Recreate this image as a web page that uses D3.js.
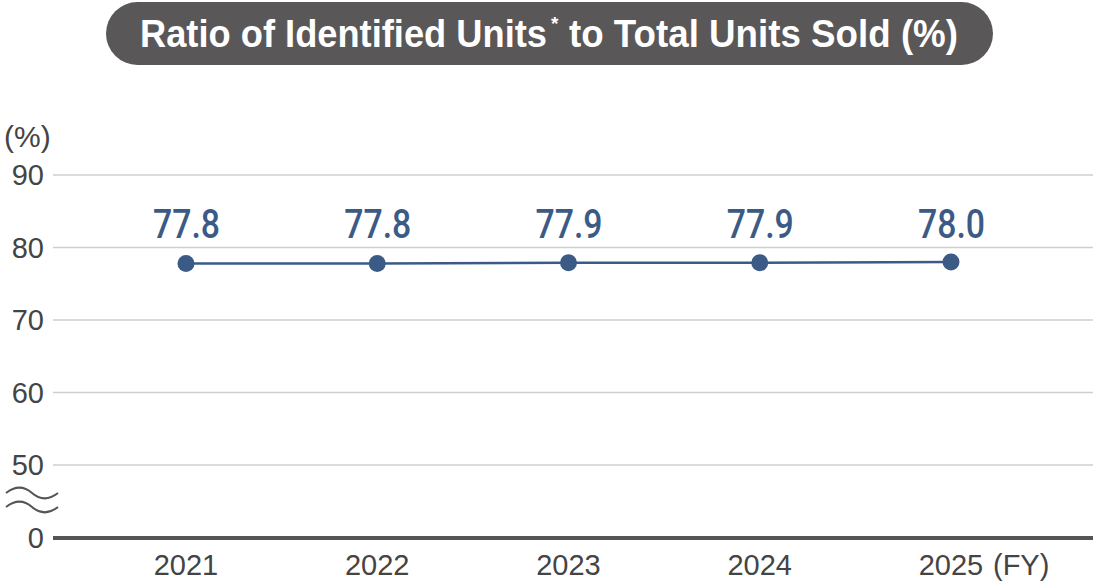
<!DOCTYPE html>
<html><head><meta charset="utf-8">
<script src="https://cdn.jsdelivr.net/npm/d3@7"></script>
<style>body{margin:0;background:#fff}svg{display:block}</style>
</head><body>
<svg id="c" width="1097" height="581"></svg>
<script>
const years = ["2021","2022","2023","2024","2025"];
const ratios = [77.8, 77.8, 77.9, 77.9, 78.0];
const yTicks = [50, 60, 70, 80, 90];
const titleText = "Ratio of Identified Units";
const titleMark = "*";
const titleRest = "to Total Units Sold (%)";

const svg = d3.select("#c");
const left = 53, right = 1093;
const x = d3.scalePoint().domain(years).range([186, 951]);
const y = d3.scaleLinear().domain([50, 90]).range([465, 175]);
const axisY = 538;

// title
svg.append("rect").attr("x",106).attr("y",2).attr("width",887).attr("height",63).attr("rx",31.5).attr("fill","#595757");
const tg = svg.append("g").attr("fill","#fff")
  .attr("font-family","Liberation Sans, Arial, sans-serif").attr("font-weight","bold");
tg.append("text").attr("x",140).attr("y",47).attr("font-size",39)
  .attr("textLength",407).attr("lengthAdjust","spacingAndGlyphs").text(titleText);
tg.append("text").attr("x",551).attr("y",30).attr("font-size",19).text(titleMark);
tg.append("text").attr("x",569).attr("y",47).attr("font-size",39)
  .attr("textLength",389).attr("lengthAdjust","spacingAndGlyphs").text(titleRest);

// grid
svg.append("g").selectAll("line").data(yTicks).join("line")
  .attr("x1",left).attr("x2",right).attr("y1",d=>y(d)).attr("y2",d=>y(d))
  .attr("stroke","#cfcfcf").attr("stroke-width",1.5);

// y labels
const yl = svg.append("g").attr("font-family","Liberation Sans, Arial, sans-serif").attr("font-size",29).attr("fill","#444").attr("text-anchor","end");
yl.selectAll("text").data(yTicks).join("text").attr("x",44).attr("y",d=>y(d)+10).text(d=>d);
yl.append("text").attr("x",44).attr("y",axisY+10).text("0");
svg.append("text").attr("x",4).attr("y",147).attr("font-family","Liberation Sans, Arial, sans-serif").attr("font-size",30).attr("fill","#444").text("(%)");

// break squiggle
const wave = (yy)=>`M6,${yy} C15,${yy-7} 24,${yy-7} 32,${yy} S49,${yy+7} 58,${yy}`;
[493, 507].forEach(yy=>svg.append("path").attr("d",wave(yy)).attr("fill","none").attr("stroke","#555").attr("stroke-width",2));

// axis
svg.append("line").attr("x1",left).attr("x2",right).attr("y1",axisY).attr("y2",axisY).attr("stroke","#555").attr("stroke-width",4);

// x labels
const xl = svg.append("g").attr("font-family","Liberation Sans, Arial, sans-serif").attr("font-size",29).attr("fill","#444").attr("text-anchor","middle");
xl.selectAll("text").data(years).join("text").attr("x",d=>x(d)).attr("y",575).text(d=>d);
svg.append("text").attr("x",x(years[4])+42).attr("y",575).attr("font-family","Liberation Sans, Arial, sans-serif").attr("font-size",29).attr("fill","#444").text("(FY)");

// line
const col = "#3b5b86";
const data = years.map((yr,i)=>({yr, v:ratios[i]}));
svg.append("path").datum(data).attr("fill","none").attr("stroke",col).attr("stroke-width",2.5)
  .attr("d", d3.line().x(d=>x(d.yr)).y(d=>y(d.v)));
svg.append("g").selectAll("circle").data(data).join("circle")
  .attr("cx",d=>x(d.yr)).attr("cy",d=>y(d.v)).attr("r",8.5).attr("fill",col);
svg.append("g").selectAll("text").data(data).join("text")
  .attr("x",d=>x(d.yr)-33).attr("y",238)
  .attr("font-family","Roboto, sans-serif").attr("font-weight",500).attr("font-size",40).attr("fill",col)
  .attr("textLength",67).attr("lengthAdjust","spacingAndGlyphs")
  .text(d=>d.v.toFixed(1));
</script>
</body></html>
